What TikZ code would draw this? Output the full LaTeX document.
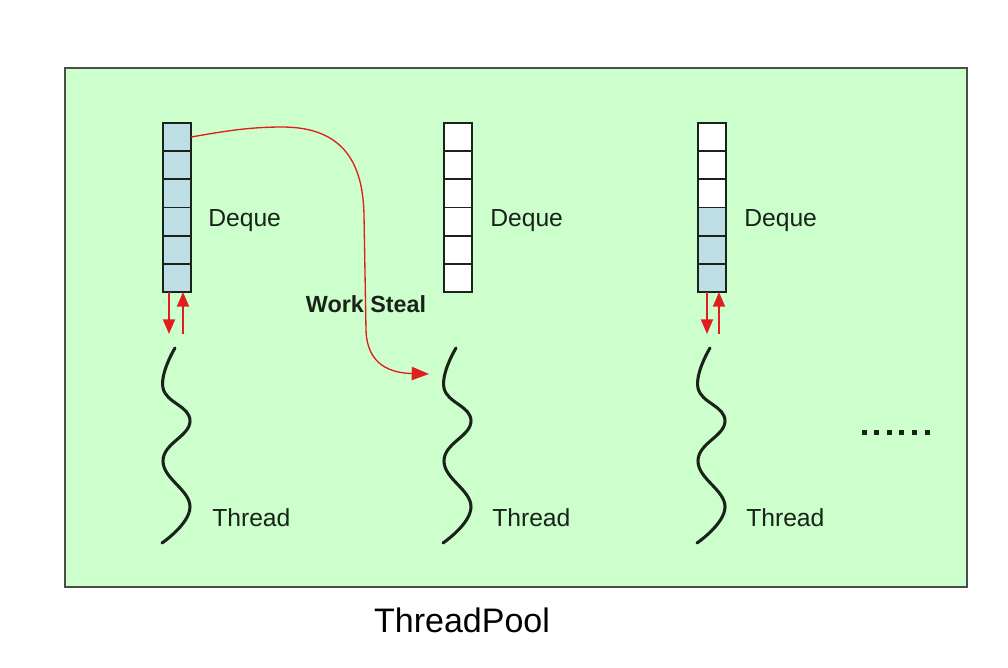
\documentclass[tikz,border=0pt]{standalone}
\usepackage{fontspec}
\setmainfont{Liberation Sans}
\usetikzlibrary{arrows.meta}
\definecolor{poolgreen}{RGB}{204,255,204}
\definecolor{cellblue}{RGB}{190,222,230}
\definecolor{arrowred}{RGB}{225,30,30}
\definecolor{inkc}{RGB}{25,35,25}
\tikzset{
  cellbox/.style={draw=inkc, line width=1.3pt, minimum width=21pt, minimum height=21.1pt, inner sep=0pt, outer sep=0pt, anchor=north west},
  fullcell/.style={cellbox, fill=cellblue},
  emptycell/.style={cellbox, fill=white},
  lbl/.style={font=\fontsize{18.5}{20}\selectfont, text=inkc, anchor=west, inner sep=0pt},
  thread/.style={draw=inkc, line width=2.3pt, line cap=round},
  pushpop/.style={draw=arrowred, line width=1.4pt, -{Triangle[length=11pt,width=9pt]}},
  stealarrow/.style={draw=arrowred, line width=1pt, -{Triangle[length=13pt,width=10pt]}},
}
\begin{document}
\begin{tikzpicture}[x=0.75pt, y=-0.75pt]
\useasboundingbox (0,0) rectangle (1008,668);
\fill[white] (0,0) rectangle (1008,668);
% pool frame
\node[draw=inkc!80, line width=1.2pt, fill=poolgreen, minimum width=676.5pt, minimum height=389.25pt, inner sep=0pt, anchor=north west] (pool) at (64,67) {};
% deques
\foreach \i/\x/\nfull in {1/163/6, 2/444/0, 3/698/3} {
  \foreach \k in {1,...,6} {
    \pgfmathtruncatemacro{\isfull}{\k > 6-\nfull ? 1 : 0}
    \ifnum\isfull=1
      \node[fullcell] (d\i c\k) at (\x, {123+(\k-1)*28.17}) {};
    \else
      \node[emptycell] (d\i c\k) at (\x, {123+(\k-1)*28.17}) {};
    \fi
  }
}
% deque labels
\node[lbl] (dl1) at (208,221) {Deque};
\node[lbl] (dl2) at (490,221) {Deque};
\node[lbl] (dl3) at (744,221) {Deque};
% threads
\foreach \i/\dx in {1/0, 2/281, 3/535} {
  \coordinate (t\i top) at (175+\dx,348);
  \coordinate (t\i bot) at (162+\dx,543);
  \draw[thread] plot[smooth, tension=0.75] coordinates {(t\i top) (163+\dx,388) (190+\dx,421) (163+\dx,461) (190+\dx,507) (t\i bot)};
}
\node[lbl] (tl1) at (212,518) {Thread};
\node[lbl] (tl2) at (492,518) {Thread};
\node[lbl] (tl3) at (746,518) {Thread};
% push/pop arrows
\coordinate (a1s) at (169,292); \coordinate (a1e) at (169,334);
\coordinate (b1s) at (183,334); \coordinate (b1e) at (183,292);
\draw[pushpop] (a1s) -- (a1e);
\draw[pushpop] (b1s) -- (b1e);
\coordinate (a3s) at (707,292); \coordinate (a3e) at (707,334);
\coordinate (b3s) at (719,334); \coordinate (b3e) at (719,292);
\draw[pushpop] (a3s) -- (a3e);
\draw[pushpop] (b3s) -- (b3e);
% work steal
\coordinate (stealend) at (429,374);
\draw[stealarrow] (d1c1.east) .. controls (225,131) and (250,127) .. (282,127)
  .. controls (345,127) and (363,165) .. (364,215)
  -- (366,330) .. controls (367,366) and (392,373) .. (stealend);
\node[font=\bfseries\fontsize{17.5}{19}\selectfont, text=inkc, inner sep=0pt] (ws) at (366,304) {Work Steal};
% dots
\foreach \k in {0,...,5} { \fill[inkc] (864+\k*12.6-2.5,429.5) rectangle (864+\k*12.6+2.5,434.5); }
\node[inner sep=0pt] (dots) at (895,432) {};
% title
\node[font=\fontsize{25.5}{28}\selectfont, text=black, inner sep=0pt] (title) at (462,620) {ThreadPool};
\end{tikzpicture}
\end{document}
